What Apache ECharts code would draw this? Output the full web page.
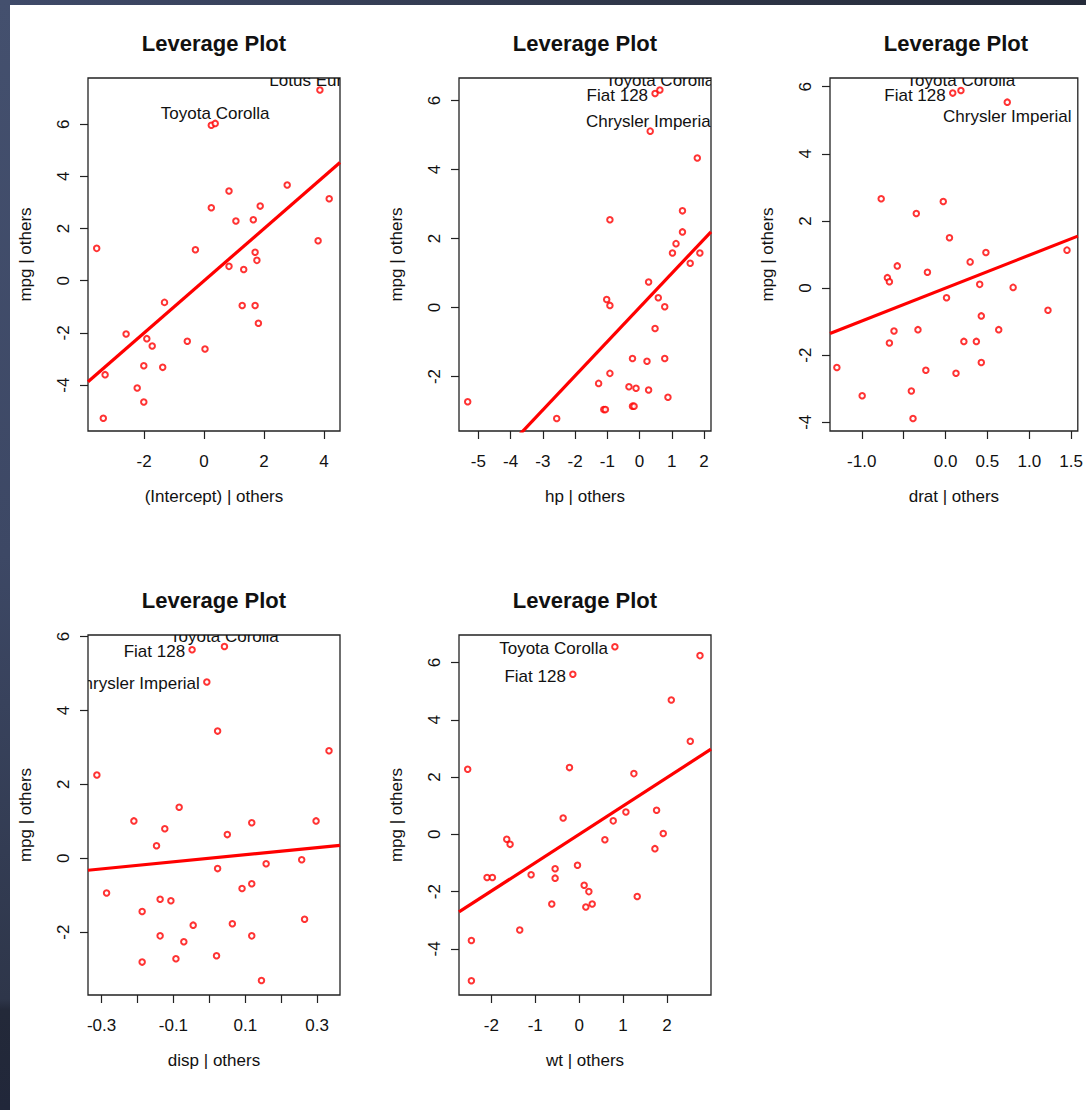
<!DOCTYPE html>
<html><head><meta charset="utf-8">
<script src="https://cdn.jsdelivr.net/npm/echarts@6/dist/echarts.min.js"></script>
<style>
html,body{margin:0;padding:0;background:#fff;}
#topbar{position:absolute;left:0;top:0;width:1086px;height:5px;background:linear-gradient(90deg,#3f4a69,#2f3648 60%,#252b3a);}
#leftbar{position:absolute;left:0;top:0;width:10px;height:1110px;background:linear-gradient(180deg,#44506e 0%,#3d4865 50%,#2e364a 90%,#232939 91%,#21273a 100%);}
#chart{position:absolute;left:10px;top:5px;width:1076px;height:1105px;background:#fff;}
</style></head>
<body>
<div id="topbar"></div><div id="leftbar"></div>
<div id="chart"></div>
<script>
// ---------------- data ----------------
const titleText = 'Leverage Plot';
const yAxisName = 'mpg | others';
const xAxisNames = ['(Intercept) | others', 'hp | others', 'drat | others', 'disp | others', 'wt | others'];

const interceptX = [-3.58,-3.30,-3.36,-2.60,-2.23,-2.01,-2.01,-1.91,-1.73,-1.38,-1.32,-0.56,-0.29,0.03,0.24,0.24,0.37,0.83,0.83,1.06,1.27,1.32,1.64,1.70,1.70,1.76,1.81,1.87,2.77,3.80,3.86,4.17];
const interceptY = [1.24,-3.60,-5.27,-2.04,-4.11,-3.26,-4.65,-2.22,-2.50,-3.32,-0.83,-2.32,1.19,-2.62,2.80,5.96,6.03,3.44,0.55,2.29,-0.95,0.43,2.34,1.09,-0.95,0.78,-1.63,2.86,3.67,1.53,7.31,3.14];

const hpX = [-5.33,-2.57,-1.27,-1.11,-1.06,-1.02,-0.92,-0.92,-0.92,-0.33,-0.22,-0.22,-0.17,-0.11,0.23,0.28,0.28,0.33,0.48,0.48,0.63,0.58,0.78,0.78,0.88,1.02,1.13,1.33,1.33,1.57,1.79,1.87];
const hpY = [-2.73,-3.22,-2.20,-2.96,-2.96,0.23,2.54,0.06,-1.91,-2.30,-1.48,-2.86,-2.86,-2.34,-1.56,0.74,-2.39,5.11,-0.61,6.20,6.30,0.28,0.02,-1.48,-2.60,1.58,1.85,2.80,2.19,1.28,4.33,1.58];

const dratX = [-1.297,-0.995,-0.768,-0.694,-0.670,-0.670,-0.615,-0.576,-0.408,-0.388,-0.349,-0.329,-0.235,-0.216,-0.027,0.012,0.047,0.086,0.125,0.184,0.219,0.294,0.368,0.408,0.427,0.427,0.482,0.635,0.737,0.807,1.223,1.450];
const dratY = [-2.37,-3.21,2.66,0.31,0.19,-1.64,-1.28,0.66,-3.07,-3.89,2.22,-1.24,-2.45,0.47,2.58,-0.29,1.50,5.81,-2.54,5.89,-1.59,0.78,-1.59,0.11,-0.83,-2.22,1.06,-1.24,5.54,0.02,-0.66,1.13];

const dispX = [-0.313,-0.286,-0.210,-0.187,-0.187,-0.147,-0.137,-0.137,-0.124,-0.107,-0.093,-0.084,-0.071,-0.048,-0.045,-0.007,0.020,0.023,0.023,0.042,0.050,0.064,0.091,0.118,0.118,0.118,0.145,0.158,0.257,0.265,0.297,0.333];
const dispY = [2.25,-0.94,1.01,-1.44,-2.81,0.34,-1.11,-2.10,0.80,-1.15,-2.72,1.38,-2.26,5.64,-1.81,4.77,-2.64,3.44,-0.28,5.73,0.64,-1.77,-0.82,0.96,-0.69,-2.10,-3.31,-0.15,-0.04,-1.65,1.01,2.91];

const wtX = [-2.540,-2.456,-2.456,-2.099,-1.977,-1.650,-1.574,-1.354,-1.095,-0.624,-0.548,-0.548,-0.365,-0.221,-0.144,-0.038,0.114,0.152,0.221,0.297,0.586,0.776,0.814,1.065,1.247,1.323,1.726,1.764,1.916,2.099,2.532,2.753];
const wtY = [2.27,-3.71,-5.11,-1.51,-1.51,-0.17,-0.35,-3.34,-1.41,-2.43,-1.20,-1.53,0.57,2.33,5.59,-1.08,-1.78,-2.54,-2.00,-2.43,-0.19,0.47,6.55,0.78,2.12,-2.17,-0.50,0.84,0.03,4.69,3.25,6.24];

const fitSlopes = [1.00, 0.99, 0.98, 0.96, 0.99];

const xRanges = [[-3.87,4.53],[-5.60,2.215],[-1.379,1.579],[-0.3377,0.3636],[-2.738,3.004]];
const yRanges = [[-5.76,7.77],[-3.58,6.65],[-4.26,6.26],[-3.70,6.04],[-5.61,6.96]];

const xTicks = [[-2,0,2,4],[-5,-4,-3,-2,-1,0,1,2],[-1,-0.5,0,0.5,1,1.5],[-0.3,-0.2,-0.1,0,0.1,0.2,0.3],[-2,-1,0,1,2]];
const xTickLabels = [[-2,0,2,4],[-5,-4,-3,-2,-1,0,1,2],[-1,0,0.5,1,1.5],[-0.3,-0.1,0.1,0.3],[-2,-1,0,1,2]];
const xTickDecimals = [0,0,1,1,0];
const yTicks = [[-4,-2,0,2,4,6],[-2,0,2,4,6],[-4,-2,0,2,4,6],[-2,0,2,4,6],[-4,-2,0,2,4,6]];

const labelIdx = [[16,30],[20,19,17],[19,17,28],[19,13,15],[22,14]];
const labelNames = [['Toyota Corolla','Lotus Europa'],['Toyota Corolla','Fiat 128','Chrysler Imperial'],['Toyota Corolla','Fiat 128','Chrysler Imperial'],['Toyota Corolla','Fiat 128','Chrysler Imperial'],['Toyota Corolla','Fiat 128']];
const labelPos = [['top','top'],['top','left','top'],['top','left','bottom'],['top','left','left'],['left','left']];

const panelX = [interceptX, hpX, dratX, dispX, wtX];
const panelY = [interceptY, hpY, dratY, dispY, wtY];

// ---------------- layout ----------------
const FONT = '"Liberation Sans", Arial, Helvetica, sans-serif';
const boxes = [
  {left:78, top:73, width:252, height:353},
  {left:449, top:73, width:252, height:353},
  {left:820, top:73, width:252, height:353},
  {left:78, top:630, width:252, height:360},
  {left:449, top:630, width:252, height:360}
];

const grids = [], xAxes = [], yAxes = [], series = [], graphics = [];
boxes.forEach(function(b, i){
  grids.push({left:b.left, top:b.top, width:b.width, height:b.height, show:true, borderColor:'#222', borderWidth:1.3, backgroundColor:'#fff'});
  const dec = xTickDecimals[i];
  xAxes.push({
    type:'value', gridIndex:i, min:xRanges[i][0], max:xRanges[i][1],
    axisLine:{show:false, onZero:false},
    axisTick:{show:true, length:8, lineStyle:{color:'#222', width:1.2}, customValues:xTicks[i]},
    axisLabel:{show:true, customValues:xTickLabels[i], margin:22, color:'#111', fontSize:17, fontFamily:FONT,
      formatter:function(v){ return Number(v).toFixed(dec); }},
    splitLine:{show:false},
    name:xAxisNames[i], nameLocation:'middle', nameGap:57,
    nameTextStyle:{color:'#111', fontSize:17, fontFamily:FONT}
  });
  yAxes.push({
    type:'value', gridIndex:i, min:yRanges[i][0], max:yRanges[i][1],
    axisLine:{show:false, onZero:false},
    axisTick:{show:true, length:8, lineStyle:{color:'#222', width:1.2}, customValues:yTicks[i]},
    axisLabel:{show:true, customValues:yTicks[i], rotate:90, margin:16, color:'#111', fontSize:17, fontFamily:FONT,
      formatter:function(v){ return String(Math.round(v)); }},
    splitLine:{show:false},
    name:yAxisName, nameLocation:'middle', nameGap:54,
    nameTextStyle:{color:'#111', fontSize:17, fontFamily:FONT}
  });
  const xs = panelX[i], ys = panelY[i];
  series.push({
    type:'scatter', xAxisIndex:i, yAxisIndex:i,
    data: xs.map(function(x, k){ return [x, ys[k]]; }),
    symbol:'emptyCircle', symbolSize:5.5,
    itemStyle:{color:'#ff0000', borderColor:'#ff0000', borderWidth:1.3},
    silent:true, z:2
  });
  const s = fitSlopes[i], xr = xRanges[i];
  series.push({
    type:'line', xAxisIndex:i, yAxisIndex:i,
    data:[[xr[0], s*xr[0]], [xr[1], s*xr[1]]],
    symbol:'none', clip:true,
    lineStyle:{color:'#ff0000', width:3.2},
    silent:true, z:3
  });
  const names = labelNames[i], poss = labelPos[i];
  series.push({
    type:'custom', xAxisIndex:i, yAxisIndex:i, clip:true, silent:true, z:4,
    data: labelIdx[i].map(function(k, j){ return [xs[k], ys[k], j]; }),
    encode:{x:0, y:1},
    renderItem:function(params, api){
      const p = api.coord([api.value(0), api.value(1)]);
      const j = api.value(2);
      const pos = poss[j];
      let dx = 0, dy = 0, align = 'center';
      if (pos === 'top') { dy = -10; }
      else if (pos === 'bottom') { dy = 14; }
      else if (pos === 'left') { dx = -7; dy = 2; align = 'right'; }
      return {type:'text', x:p[0]+dx, y:p[1]+dy,
        style:{text:names[j], align:align, verticalAlign:'middle', textAlign:align, textVerticalAlign:'middle',
          font:'17px ' + FONT, fill:'#111'}};
    }
  });
  graphics.push({type:'text', x:b.left + b.width/2, y:(i < 3 ? 38 : 595), silent:true,
    style:{text:titleText, align:'center', verticalAlign:'middle', textAlign:'center', textVerticalAlign:'middle',
      font:'bold 22px ' + FONT, fill:'#111'}});
});

const chart = echarts.init(document.getElementById('chart'), null, {renderer:'svg'});
chart.setOption({
  animation:false,
  backgroundColor:'#fff',
  grid:grids, xAxis:xAxes, yAxis:yAxes, series:series, graphic:graphics
});
</script>
</body></html>
